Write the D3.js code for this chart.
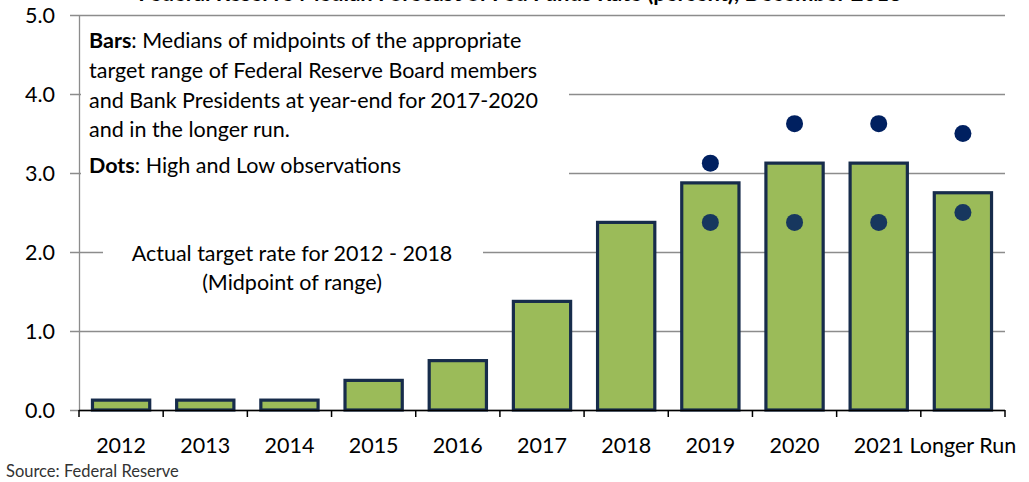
<!DOCTYPE html>
<html>
<head>
<meta charset="utf-8">
<script src="https://cdn.jsdelivr.net/npm/d3@7"></script>
<style>
  body { margin: 0; background: #fff; }
  svg { display: block; font-family: Lato, "Open Sans", sans-serif; }
</style>
</head>
<body>
<div id="chart"></div>
<script>
// categories along the x axis
var categories = ["2012", "2013", "2014", "2015", "2016", "2017", "2018", "2019", "2020", "2021", "Longer Run"];

// bar values: actual target midpoint and FOMC medians
var medians = [0.125, 0.125, 0.125, 0.375, 0.625, 1.375, 2.375, 2.875, 3.125, 3.125, 2.75];

// high / low observations (only for forecast years)
var highObs = [null, null, null, null, null, null, null, 3.125, 3.625, 3.625, 3.5];
var lowObs = [null, null, null, null, null, null, null, 2.375, 2.375, 2.375, 2.5];

var yTicks = [0, 1, 2, 3, 4, 5];

var boxLines = [
    ["Bars", ": Medians of midpoints of the appropriate"],
    ["", "target range of Federal Reserve Board members"],
    ["", "and Bank Presidents at year-end for 2017-2020"],
    ["", "and in the longer run."],
    ["Dots", ": High and Low observations"]
];
var actualLines = ["Actual target rate for 2012 - 2018", "(Midpoint of range)"];

var W = 1029, H = 482;
var margin = { top: 15, right: 24, bottom: 72, left: 79 };
var width = W - margin.left - margin.right,
    height = H - margin.top - margin.bottom;

var svg = d3.select("#chart")
    .append("svg")
    .attr("width", W)
    .attr("height", H);

// title, mostly cut off at the top edge
svg.append("text")
    .attr("x", 520)
    .attr("y", 1)
    .attr("text-anchor", "middle")
    .style("font-size", "22px")
    .style("font-weight", "bold")
    .text("Federal Reserve Median Forecast of Fed Funds Rate (percent), December 2018");

var g = svg.append("g")
    .attr("transform", "translate(" + margin.left + "," + margin.top + ")");

var x = d3.scaleBand()
    .domain(categories)
    .range([0, width])
    .paddingInner(0.32)
    .paddingOuter(0.16);

var y = d3.scaleLinear()
    .domain([0, 5])
    .range([height, 0]);

// gridlines
g.selectAll(".grid")
    .data(yTicks)
    .enter()
    .append("line")
    .attr("x1", -9)
    .attr("x2", width)
    .attr("y1", function(d) { return y(d) + 0.5; })
    .attr("y2", function(d) { return y(d) + 0.5; })
    .attr("stroke", "#8c8c8c")
    .attr("stroke-width", 1.3);

// y axis line
g.append("line")
    .attr("x1", 0.5).attr("x2", 0.5)
    .attr("y1", 0).attr("y2", height)
    .attr("stroke", "#8c8c8c")
    .attr("stroke-width", 1.3);

// y labels
g.selectAll(".ylab")
    .data(yTicks)
    .enter()
    .append("text")
    .attr("x", -24)
    .attr("y", function(d) { return y(d); })
    .attr("dy", "0.36em")
    .attr("text-anchor", "end")
    .style("font-size", "21.5px")
    .text(function(d) { return d3.format(".1f")(d); });

// white text boxes that hide the gridlines
g.append("rect")
    .attr("x", 2).attr("y", 3)
    .attr("width", 488).attr("height", 172)
    .attr("fill", "#fff");
g.append("rect")
    .attr("x", 24).attr("y", 212)
    .attr("width", 380).attr("height", 80)
    .attr("fill", "#fff");

// bars
g.selectAll(".bar")
    .data(medians)
    .enter()
    .append("rect")
    .attr("x", function(d, i) { return x(categories[i]); })
    .attr("y", function(d) { return y(d); })
    .attr("width", x.bandwidth())
    .attr("height", function(d) { return height - y(d); })
    .attr("fill", "#9bbb59")
    .attr("stroke", "#172c4b")
    .attr("stroke-width", 3.2);

// high dots
g.selectAll(".hi")
    .data(highObs.map(function(v, i) { return { v: v, c: categories[i] }; }).filter(function(d) { return d.v != null; }))
    .enter()
    .append("circle")
    .attr("cx", function(d) { return x(d.c) + x.bandwidth() / 2; })
    .attr("cy", function(d) { return y(d.v); })
    .attr("r", 8.5)
    .attr("fill", "#002060");

// low dots
g.selectAll(".lo")
    .data(lowObs.map(function(v, i) { return { v: v, c: categories[i] }; }).filter(function(d) { return d.v != null; }))
    .enter()
    .append("circle")
    .attr("cx", function(d) { return x(d.c) + x.bandwidth() / 2; })
    .attr("cy", function(d) { return y(d.v); })
    .attr("r", 8.5)
    .attr("fill", "#17375e");

// x axis
var xaxis = g.append("g")
    .attr("transform", "translate(0," + height + ")");
xaxis.append("line")
    .attr("x1", 0).attr("x2", width)
    .attr("y1", 0.5).attr("y2", 0.5)
    .attr("stroke", "#000")
    .attr("stroke-width", 1.5);
var step = x.step();
xaxis.selectAll(".tick")
    .data(d3.range(categories.length + 1))
    .enter()
    .append("line")
    .attr("x1", function(i) { return i * step; })
    .attr("x2", function(i) { return i * step; })
    .attr("y1", 0).attr("y2", 7)
    .attr("stroke", "#000")
    .attr("stroke-width", 1.5);
xaxis.selectAll(".xlab")
    .data(categories)
    .enter()
    .append("text")
    .attr("x", function(d) { return x(d) + x.bandwidth() / 2; })
    .attr("y", 43)
    .attr("text-anchor", "middle")
    .style("font-size", "21.5px")
    .text(function(d) { return d; });

// annotation: bars and dots
var box = g.append("text")
    .style("font-size", "21.5px");
boxLines.forEach(function(l, i) {
    var t = box.append("tspan")
        .attr("x", 10)
        .attr("y", [33, 63, 93, 122, 158][i]);
    if (l[0]) {
        t.append("tspan").style("font-weight", "bold").text(l[0]);
    }
    t.append("tspan").text(l[1]);
});

// annotation: actual target rate
g.selectAll(".act")
    .data(actualLines)
    .enter()
    .append("text")
    .attr("x", 213)
    .attr("y", function(d, i) { return 246 + i * 29; })
    .attr("text-anchor", "middle")
    .style("font-size", "21.5px")
    .text(function(d) { return d; });

// source
svg.append("text")
    .attr("x", 6)
    .attr("y", 477)
    .style("font-size", "16.5px")
    .style("fill", "#333")
    .text("Source:  Federal Reserve");
</script>
</body>
</html>
